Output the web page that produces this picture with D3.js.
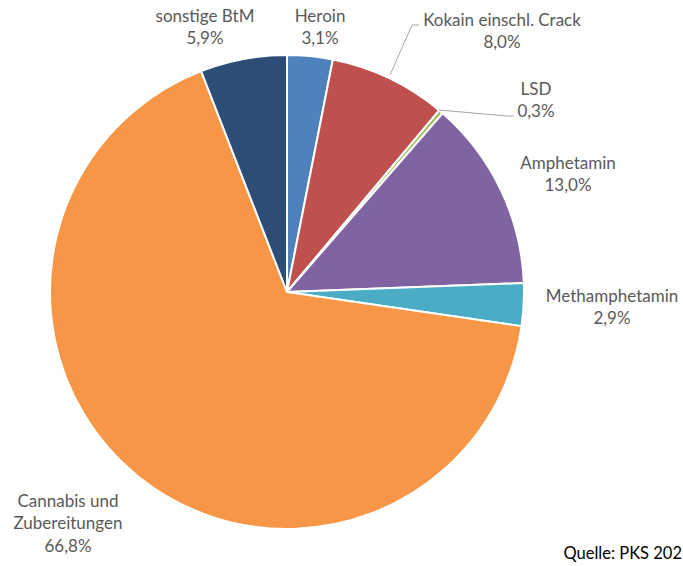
<!DOCTYPE html>
<html>
<head>
<meta charset="utf-8">
<script src="https://cdn.jsdelivr.net/npm/d3@7"></script>
<style>
  html, body { margin: 0; padding: 0; background: #fff; }
  svg { display: block; }
  text { font-family: Lato, "Open Sans", sans-serif; fill: #595959; }
</style>
</head>
<body>
<svg id="chart" width="683" height="566"></svg>
<script>
// Drug categories, clockwise from 12 o'clock
const categories = ["Heroin", "Kokain einschl. Crack", "LSD", "Amphetamin", "Methamphetamin", "Cannabis und Zubereitungen", "sonstige BtM"];
const shares = [3.1, 8.0, 0.3, 13.0, 2.9, 66.8, 5.9];
const colors = ["#4F81BD", "#C0504D", "#9BBB59", "#8064A2", "#4BACC6", "#F79646", "#2C4D75"];
const labelLines = [["Heroin"], ["Kokain einschl. Crack"], ["LSD"], ["Amphetamin"], ["Methamphetamin"], ["Cannabis und", "Zubereitungen"], ["sonstige BtM"]];
const sourceNote = "Quelle: PKS 202";

// Label anchor points (centre of first line) and optional leader lines
const labelPos = [[320, 16], [502, 20], [536, 89], [568, 163], [612, 296], [68, 501], [205, 16]];
const leaders = { 1: [[390, 75], [412, 25], [419, 25]], 2: [[439, 110], [507, 116], [514, 116]] };

const svg = d3.select("#chart");
const cx = 287, cy = 292, r = 237;

const pie = d3.pie().sort(null).value(d => d.v);
const data = categories.map((c, i) => ({ c, v: shares[i], i }));
const arcs = pie(data);
const arc = d3.arc().innerRadius(0).outerRadius(r);
const fmt = v => d3.format(".1f")(v).replace(".", ",") + "%";

const g = svg.append("g").attr("transform", `translate(${cx},${cy})`);
g.selectAll("path").data(arcs).join("path")
  .attr("d", arc)
  .attr("fill", d => colors[d.data.i])
  .attr("stroke", "#fff")
  .attr("stroke-width", 2)
  .attr("stroke-linejoin", "round");

// Leader lines
Object.entries(leaders).forEach(([k, pts]) => {
  svg.append("path")
    .attr("d", d3.line()(pts))
    .attr("fill", "none")
    .attr("stroke", "#A6A6A6")
    .attr("stroke-width", 1);
});

// Data labels
const lineH = 22.5;
arcs.forEach(a => {
  const i = a.data.i;
  const [x, y] = labelPos[i];
  const t = svg.append("text")
    .attr("text-anchor", "middle")
    .attr("font-size", 17)
    .attr("x", x).attr("y", y);
  const lines = labelLines[i].concat([fmt(a.data.v)]);
  lines.forEach((s, j) => {
    t.append("tspan").attr("x", x).attr("y", y + j * lineH).attr("dy", "0.35em").text(s);
  });
});

svg.append("text")
  .attr("x", 682).attr("y", 553)
  .attr("dy", "0.35em")
  .attr("text-anchor", "end")
  .attr("font-size", 16.5)
  .style("fill", "#000")
  .text(sourceNote);
</script>
</body>
</html>
